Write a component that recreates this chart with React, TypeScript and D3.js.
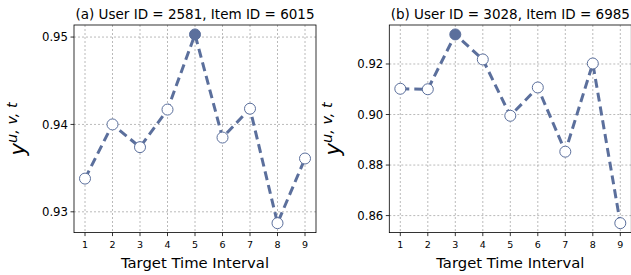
import * as d3 from "d3";

const intervals = [1, 2, 3, 4, 5, 6, 7, 8, 9];
const seriesA = [0.9338, 0.94, 0.9374, 0.9417, 0.9503, 0.9385, 0.9418, 0.9287, 0.9361];
const seriesB = [0.9102, 0.91, 0.9317, 0.9218, 0.8995, 0.9107, 0.8853, 0.9202, 0.857];
const ticksA = [0.93, 0.94, 0.95];
const ticksB = [0.86, 0.88, 0.9, 0.92];
const titleA = "(a) User ID = 2581, Item ID = 6015";
const titleB = "(b) User ID = 3028, Item ID = 6985";

const COLOR = "#5b6f9c";
const FONT = "DejaVu Sans, sans-serif";

const W = 631;
const H = 275;

function Panel({ left, values, ticks, title, fmt }) {
  const top = 25;
  const bottom = 232.6;
  const width = 242;

  const x = d3.scaleLinear().domain([0.6, 9.4]).range([left, left + width]);
  const [lo, hi] = d3.extent(values);
  const pad = (hi - lo) * 0.05;
  const y = d3.scaleLinear().domain([lo - pad, hi + pad]).range([bottom, top]);

  const line = d3
    .line()
    .x((d, i) => x(intervals[i]))
    .y((d) => y(d));

  const best = values.indexOf(d3.max(values));
  const midY = (top + bottom) / 2;
  const labelX = left - 49;

  return (
    <g>
      {intervals.map((t) => (
        <line key={"gx" + t} x1={x(t)} x2={x(t)} y1={top} y2={bottom}
          stroke="#a8a8a8" strokeWidth={0.8} strokeDasharray="2,2" />
      ))}
      {ticks.map((t) => (
        <line key={"gy" + t} x1={left} x2={left + width} y1={y(t)} y2={y(t)}
          stroke="#a8a8a8" strokeWidth={0.8} strokeDasharray="2,2" />
      ))}
      <path d={line(values)} fill="none" stroke={COLOR} strokeWidth={3}
        strokeDasharray="9,5" />
      {values.map((v, i) => (
        <circle key={"p" + i} cx={x(intervals[i])} cy={y(v)} r={5.5}
          fill={i === best ? COLOR : "#fff"} stroke={COLOR} strokeWidth={1} />
      ))}
      <rect x={left} y={top} width={width} height={bottom - top}
        fill="none" stroke="#000" strokeWidth={0.8} />
      {intervals.map((t) => (
        <g key={"tx" + t}>
          <line x1={x(t)} x2={x(t)} y1={bottom} y2={bottom + 3.5} stroke="#000" strokeWidth={0.8} />
          <text x={x(t)} y={bottom + 15} textAnchor="middle" fontSize={9.5} fontFamily={FONT}>{t}</text>
        </g>
      ))}
      {ticks.map((t) => (
        <g key={"ty" + t}>
          <line x1={left - 3.5} x2={left} y1={y(t)} y2={y(t)} stroke="#000" strokeWidth={0.8} />
          <text x={left - 6} y={y(t)} dy="0.36em" textAnchor="end" fontSize={11.7} fontFamily={FONT}>{fmt(t)}</text>
        </g>
      ))}
      <text x={left + width / 2} y={19} textAnchor="middle" fontSize={13.5} fontFamily={FONT}>{title}</text>
      <text x={left + width / 2} y={268} textAnchor="middle" fontSize={14.8} fontFamily={FONT}>Target Time Interval</text>
      <text transform={`translate(${labelX},${midY}) rotate(-90)`} textAnchor="middle" fontFamily={FONT} fontStyle="italic">
        <tspan fontSize={21}>y</tspan>
        <tspan fontSize={14.5} dy={-8}>u, v, t</tspan>
      </text>
    </g>
  );
}

export default function App() {
  return (
    <svg width={W} height={H} style={{ position: "absolute", left: 0, top: 0, background: "#fff" }}>
      <Panel left={74} values={seriesA} ticks={ticksA} title={titleA} fmt={d3.format(".2f")} />
      <Panel left={389.3} values={seriesB} ticks={ticksB} title={titleB} fmt={d3.format(".2f")} />
    </svg>
  );
}
